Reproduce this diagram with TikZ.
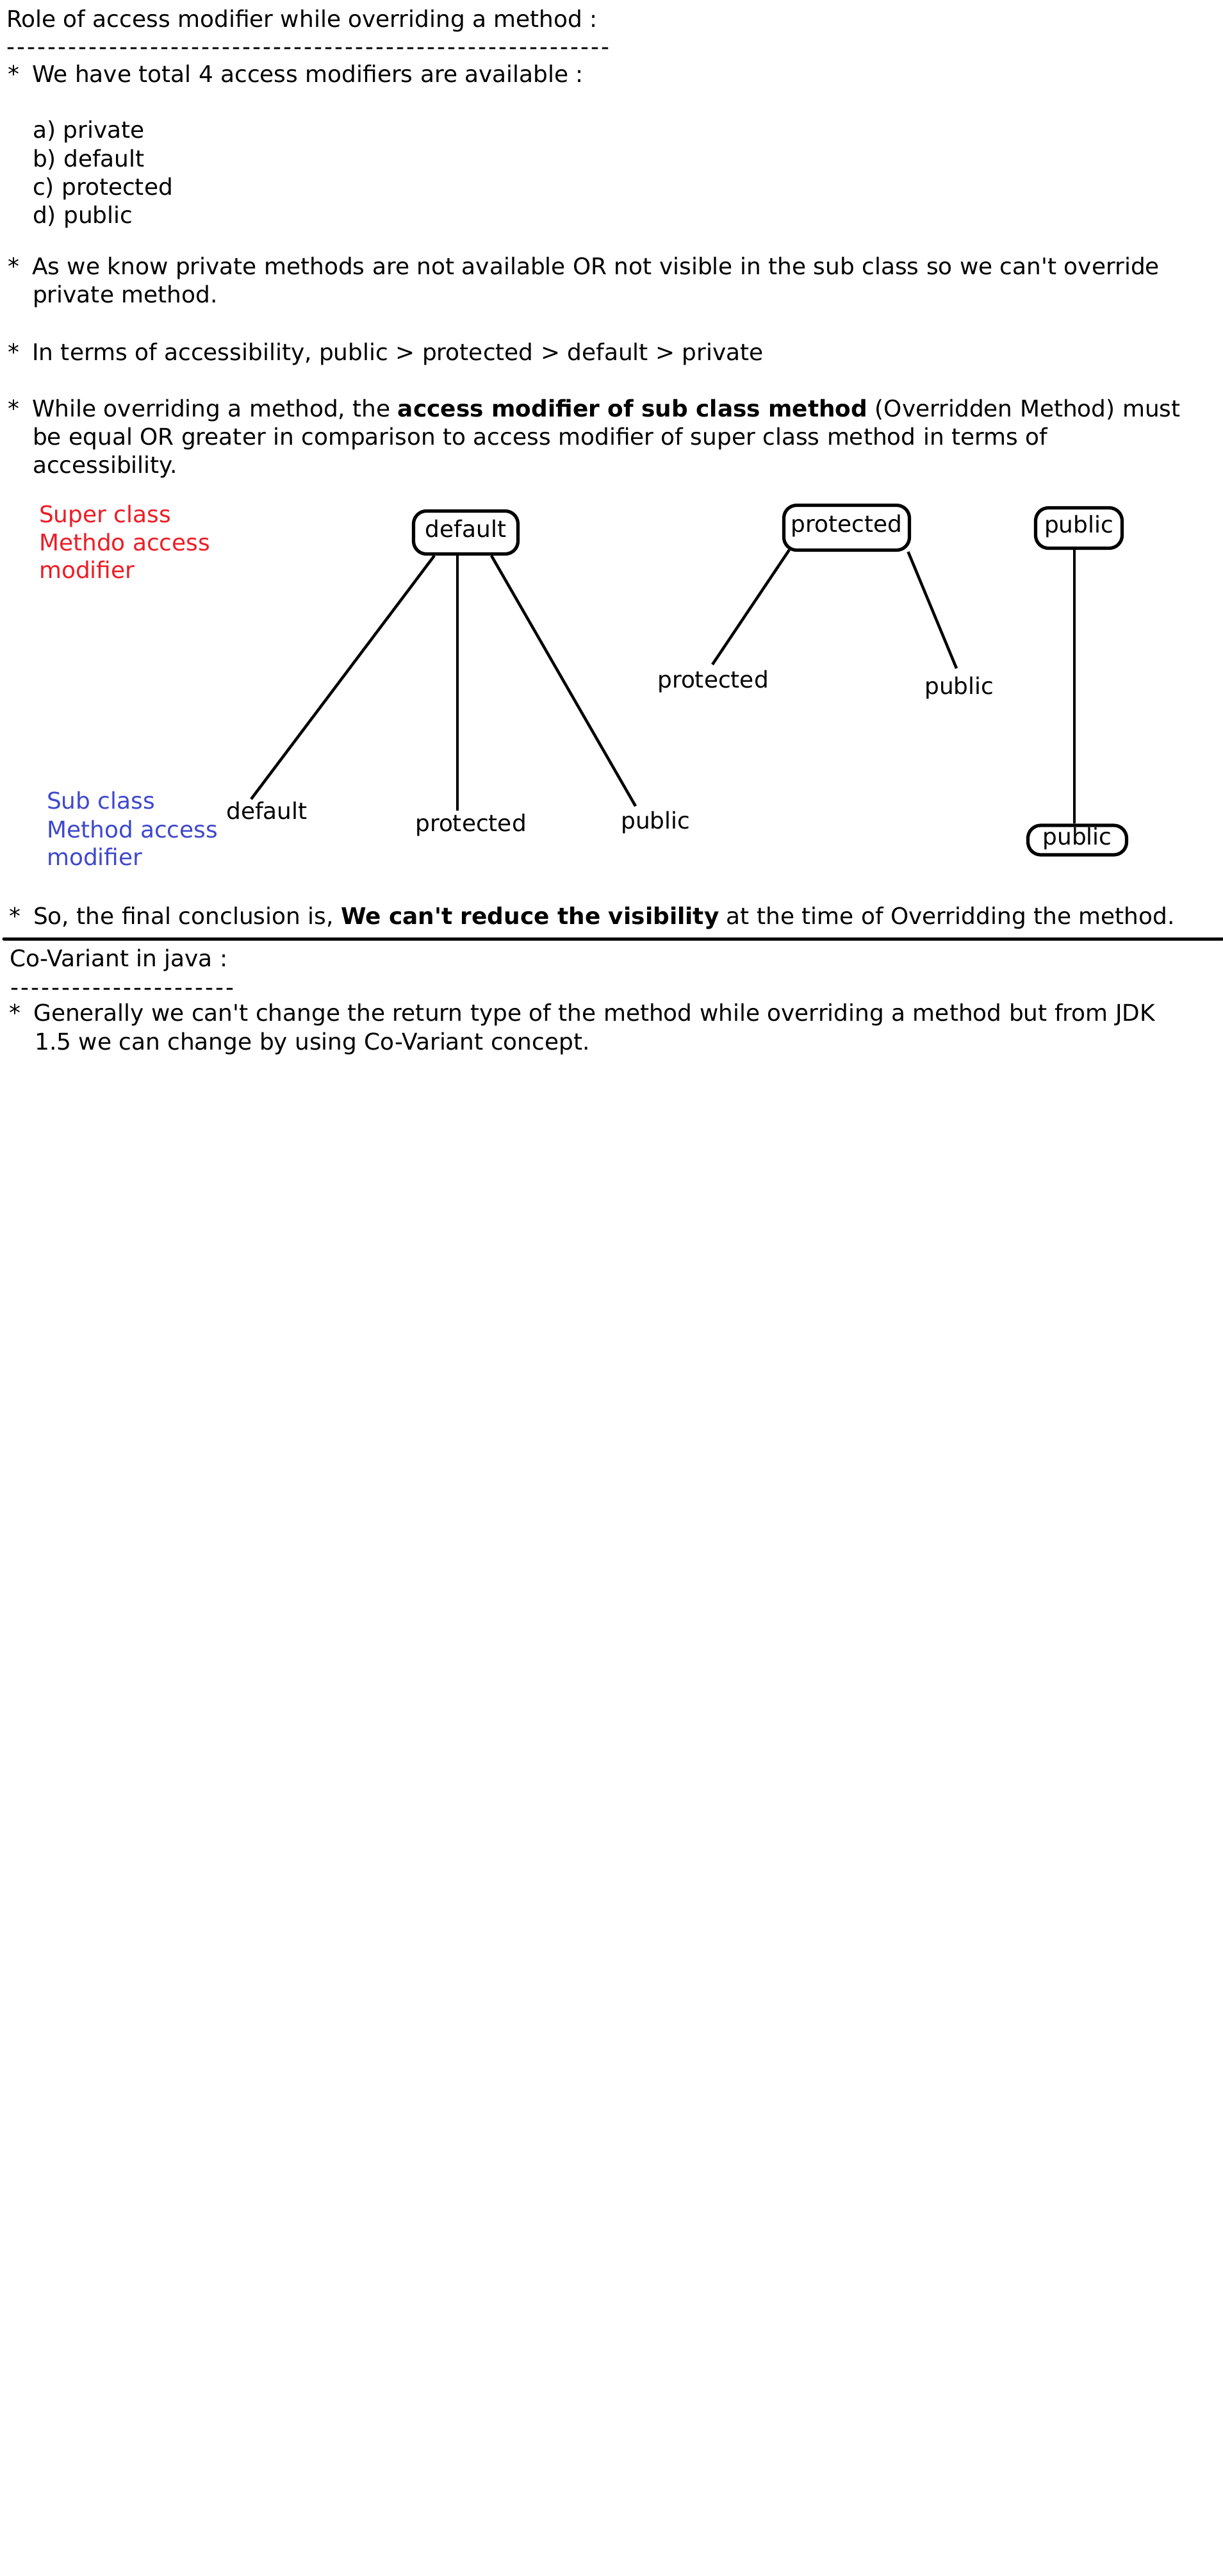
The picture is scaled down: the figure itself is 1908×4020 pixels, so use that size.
\documentclass[tikz,border=0pt]{standalone}
\usepackage{fontspec}
\setmainfont{DejaVu Sans}[Ligatures=TeXOff]
\usepackage{tikz}
\usetikzlibrary{positioning}

\definecolor{superred}{HTML}{ED1C24}
\definecolor{subblue}{HTML}{3F48CC}
\newcommand{\bul}{\makebox[19pt][l]{*}}
\newcommand{\dashrow}[1]{\foreach \k in {1,...,#1}{\makebox[8pt][l]{-}}}

\begin{document}
\begin{tikzpicture}[x=0.5pt,y=-0.5pt
	,font=\fontsize{17.95pt}{21pt}\selectfont
	,line width=2.2pt]
  \tikzstyle{every node}=[inner sep=0pt,anchor=base west]
  \tikzstyle{modbox}=[draw,rounded corners=10pt,line width=2.6pt,anchor=center
	,text height=0.8em,text depth=0.1em]
  \path[use as bounding box,fill=white] (0,0) rectangle (1908,4020);

  % heading
  \node (title) at (8,43) {Role of access modifier while overriding a method :};
  \node (rule1) at (8,86) {\dashrow{59}};
  % 4 modifiers
  \node (pt1) at (10,128) {\bul We have total 4 access modifiers are available :};
  \node (moda) at (49,215) {a) private};
  \node (modb) at (49,260) {b) default};
  \node (modc) at (49,304) {c) protected};
  \node (modd) at (49,348) {d) public};
  % remarks
  \node (pt2) at (10,428) {\bul As we know private methods are not available OR not visible in the sub class so we can't override};
  \node (pt2b) at (49,472) {private method.};
  \node (pt3) at (10,562) {\bul In terms of accessibility, public > protected > default > private};
  \node (pt4) at (10,650) {\bul While overriding a method, the \textbf{access modifier of sub class method} (Overridden Method) must};
  \node (pt4b) at (49,694) {be equal OR greater in comparison to access modifier of super class method in terms of};
  \node (pt4c) at (49,738) {accessibility.};

  % side labels
  \node[text=superred] (sup1) at (59,815) {Super class};
  \node[text=superred] (sup2) at (59,859) {Methdo access};
  \node[text=superred] (sup3) at (59,902) {modifier};
  \node[text=subblue] (sub1) at (71,1262) {Sub class};
  \node[text=subblue] (sub2) at (71,1307) {Method access};
  \node[text=subblue] (sub3) at (71,1350) {modifier};

  % super class methods
  \node[modbox,minimum width=81.5pt,minimum height=33.5pt] (supdef) at (727,831) {default};
  \node[modbox,minimum width=98pt,minimum height=35pt] (suppro) at (1321.5,823.5) {protected};
  \node[modbox,minimum width=67.5pt,minimum height=31.5pt] (suppub) at (1684,824) {public};
  % sub class methods
  \node (subdef) at (351,1278) {default};
  \node (subdefpro) at (646,1297) {protected};
  \node (subdefpub) at (967,1293) {public};
  \node (subpro) at (1024,1073) {protected};
  \node (subpropub) at (1441,1083) {public};
  \node[modbox,minimum width=77pt,minimum height=23pt] (subpub) at (1681.5,1311) {public};
  % free ends
  \coordinate (edef) at (392,1247);
  \coordinate (edefpro) at (714,1265);
  \coordinate (edefpub) at (992,1258);
  \coordinate (epro) at (1112,1037);
  \coordinate (epropub) at (1493,1043);

  % default
  \path [ ] ([xshift=-24.5pt]supdef.south) edge (edef);
  \path [ ] ([xshift=-6.5pt]supdef.south)  edge (edefpro);
  \path [ ] ([xshift=20pt]supdef.south)    edge (edefpub);
  % protected
  \path [ ] ([xshift=-44.75pt,yshift=1.5pt]suppro.south) edge (epro);
  \path [ ] ([xshift=48pt]suppro.south)    edge (epropub);
  % public
  \path [ ] ([xshift=-3.5pt]suppub.south)  edge ([xshift=-2.25pt]subpub.north);

  % conclusion
  \node (pt5) at (12,1442) {\bul So, the final conclusion is, \textbf{We can't reduce the visibility} at the time of Overridding the method.};
  \coordinate (sepl) at (6,1465);
  \coordinate (sepr) at (1908,1465);
  \draw[line width=2.5pt,line cap=round] (sepl) -- (sepr);

  % co-variant
  \node (cov) at (13,1508) {Co-Variant in java :};
  \node (rule2) at (14,1553) {\dashrow{22}};
  \node (pt6) at (12,1593) {\bul Generally we can't change the return type of the method while overriding a method but from JDK};
  \node (pt6b) at (52,1638) {1.5 we can change by using Co-Variant concept.};

\end{tikzpicture}
\end{document}
